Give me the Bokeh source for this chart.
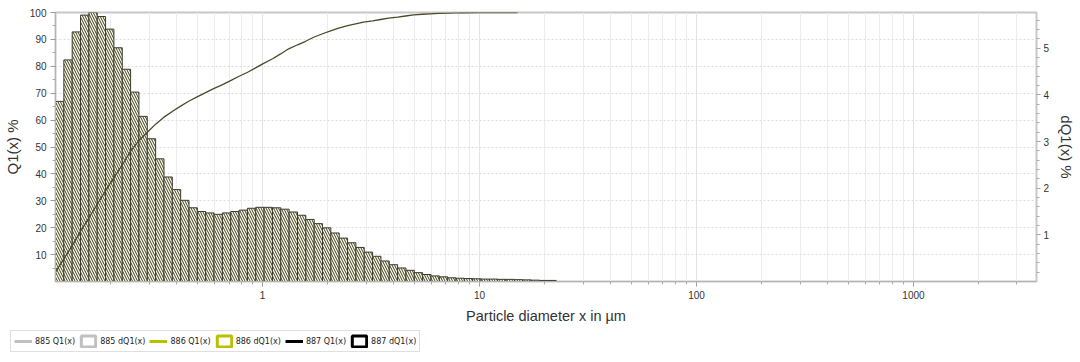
import numpy as np
from bokeh.plotting import figure
from bokeh.models import (Range1d, LinearAxis, FixedTicker, Legend, LegendItem, ColumnDataSource)
from bokeh.embed import file_html
from bokeh.resources import INLINE

# ---------------- data ----------------
x_start = 0.111          # lower edge of the first class (µm)
class_ratio = 1.0926     # geometric class width
# dQ1(x) % per class (right axis)
dq1 = [3.86, 4.75, 5.35, 5.71, 5.77, 5.68, 5.41, 5.01, 4.55, 4.06,
       3.54, 3.06, 2.63, 2.24, 1.97, 1.74, 1.58, 1.50, 1.47, 1.44,
       1.47, 1.50, 1.53, 1.57, 1.59, 1.59, 1.58, 1.55, 1.49, 1.42,
       1.33, 1.24, 1.15, 1.04, 0.93, 0.83, 0.73, 0.63, 0.54, 0.44,
       0.36, 0.29, 0.24, 0.19, 0.15, 0.12, 0.10, 0.08, 0.07, 0.063,
       0.058, 0.052, 0.052, 0.046, 0.046, 0.040, 0.035, 0.029, 0.023, 0.023]
# cumulative Q1(x) % (left axis)
q1_x = [0.1112, 0.1210, 0.1331, 0.1449, 0.1578, 0.1737, 0.1890, 0.2058, 0.2263, 0.2464,
        0.2683, 0.2951, 0.3212, 0.3498, 0.3848, 0.4189, 0.4560, 0.5017, 0.5462, 0.5944,
        0.6541, 0.7120, 0.7750, 0.8529, 0.9284, 1.0107, 1.112, 1.210, 1.318, 1.450,
        1.578, 1.718, 1.890, 2.058, 2.240, 2.465, 2.683, 2.920, 3.213, 3.498,
        3.807, 4.189, 4.560, 4.965, 5.462, 5.945, 6.473, 7.120, 7.751, 8.441,
        10.11, 14.97]
q1_y = [3.6, 8.3, 13.5, 18.7, 23.5, 29.0, 33.8, 38.5, 43.5, 48.5,
        52.3, 55.6, 58.5, 61.0, 63.3, 65.2, 67.0, 68.7, 70.2, 71.7,
        73.2, 74.7, 76.2, 77.8, 79.4, 81.1, 82.8, 84.6, 86.5, 88.0,
        89.3, 90.8, 92.1, 93.2, 94.2, 95.1, 95.8, 96.4, 96.9, 97.4,
        97.9, 98.3, 98.7, 99.1, 99.35, 99.5, 99.65, 99.8, 99.85, 99.9,
        100.0, 100.0]
left_ticks = [10, 20, 30, 40, 50, 60, 70, 80, 90, 100]
right_ticks = [1, 2, 3, 4, 5]
x_ticks = [1, 10, 100, 1000]
x_tick_labels = ["1", "10", "100", "1000"]
legend_labels = ["885 Q1(x)", "885 dQ1(x)", "886 Q1(x)", "886 dQ1(x)", "887 Q1(x)", "887 dQ1(x)"]
legend_colors = ["#c0c0c0", "#c0c0c0", "#b8c000", "#b8c000", "#000000", "#000000"]

edges = x_start * class_ratio ** np.arange(len(dq1) + 1)
bars = ColumnDataSource(dict(left=edges[:-1], right=edges[1:], top=dq1, bottom=[0] * len(dq1)))

TXT = "#333333"
FONT = "Liberation Sans"

p = figure(width=1080, height=326, output_backend="svg", toolbar_location=None,
           x_axis_type="log", x_range=Range1d(0.111, 3690), y_range=Range1d(0, 100),
           min_border_left=55, min_border_right=44, min_border_top=12, min_border_bottom=43,
           outline_line_color="#c8c8c8", outline_line_width=2)
p.extra_y_ranges = {"dq": Range1d(0, 5.766)}

# bars
p.quad(left="left", right="right", top="top", bottom="bottom", source=bars, y_range_name="dq",
       fill_color="#ffffe6", line_color="#3a3a30", line_width=1,
       hatch_pattern="\\", hatch_color="#3a3a2a", hatch_scale=5, hatch_weight=1)
# cumulative curve
p.line(q1_x, q1_y, line_color="#4a4a2a", line_width=1.3)

# grid
p.xgrid.grid_line_color = "#e4e4e4"
p.xgrid.minor_grid_line_color = "#ececec"
p.ygrid.grid_line_color = "#dcdcdc"
p.ygrid.grid_line_dash = "2 2"
p.ygrid.ticker = FixedTicker(ticks=left_ticks)

# x axis
xa = p.xaxis[0]
xa.ticker = FixedTicker(ticks=x_ticks, minor_ticks=[m * 10.0 ** e for e in range(-1, 4) for m in range(1, 10)])
xa.major_label_overrides = {t: s for t, s in zip(x_ticks, x_tick_labels)}
xa.axis_label = "Particle diameter x in µm"
xa.axis_label_text_font = FONT
xa.axis_label_text_font_size = "14.5px"
xa.axis_label_text_font_style = "normal"
xa.axis_label_text_color = TXT
xa.axis_label_standoff = 6
xa.major_label_text_font = FONT
xa.major_label_text_font_size = "10px"
xa.major_label_text_color = TXT
xa.major_label_standoff = 4
xa.axis_line_color = "#b4b4b4"
xa.major_tick_line_color = "#999999"
xa.minor_tick_line_color = "#aaaaaa"
xa.major_tick_out = 5
xa.major_tick_in = 0
xa.minor_tick_out = 3
xa.minor_tick_in = 0

# left axis
ya = p.yaxis[0]
ya.ticker = FixedTicker(ticks=left_ticks, minor_ticks=[v + 5 for v in range(0, 100, 10)])
ya.axis_label = "Q1(x) %"
ya.axis_label_text_font = FONT
ya.axis_label_text_font_size = "15px"
ya.axis_label_text_font_style = "normal"
ya.axis_label_text_color = TXT
ya.axis_label_standoff = 6
ya.major_label_text_font = FONT
ya.major_label_text_font_size = "10px"
ya.major_label_text_color = TXT
ya.major_label_standoff = 4
ya.axis_line_color = "#b4b4b4"
ya.major_tick_line_color = "#999999"
ya.minor_tick_line_color = "#aaaaaa"
ya.major_tick_out = 5
ya.major_tick_in = 0
ya.minor_tick_out = 3
ya.minor_tick_in = 0

# right axis
ra = LinearAxis(y_range_name="dq",
                ticker=FixedTicker(ticks=right_ticks,
                                   minor_ticks=[round(0.2 * i, 2) for i in range(1, 29)]))
ra.axis_label = "dQ1(x) %"
ra.axis_label_text_font = FONT
ra.axis_label_text_font_size = "15px"
ra.axis_label_text_font_style = "normal"
ra.axis_label_text_color = TXT
ra.axis_label_standoff = 6
ra.major_label_text_font = FONT
ra.major_label_text_font_size = "10px"
ra.major_label_text_color = TXT
ra.major_label_standoff = 3
ra.axis_line_color = "#c8c8c8"
ra.major_tick_line_color = "#999999"
ra.minor_tick_line_color = "#aaaaaa"
ra.major_tick_out = 4
ra.major_tick_in = 0
ra.minor_tick_out = 3
ra.minor_tick_in = 0
p.add_layout(ra, "right")

# legend strip (separate small figure; dummy renderers lie outside its ranges)
lf = figure(width=1080, height=36, output_backend="svg", toolbar_location=None,
            min_border=0, outline_line_color=None, x_range=Range1d(0, 1), y_range=Range1d(0, 1))
lf.axis.visible = False
lf.grid.visible = False
items = []
for lab, col in zip(legend_labels, legend_colors):
    if "dQ1" in lab:
        r = lf.quad(left=[5], right=[6], top=[6], bottom=[5], fill_color="white",
                    line_color=col, line_width=3)
    else:
        r = lf.line([5, 6], [5, 5], line_color=col, line_width=3)
    items.append(LegendItem(label=lab, renderers=[r]))
leg = Legend(items=items, orientation="horizontal", location=(10, 10),
             label_text_font="DejaVu Sans", label_text_font_size="8px", label_text_color="#222222",
             glyph_width=18, glyph_height=14, label_standoff=3, spacing=4, padding=3, margin=0,
             border_line_color="#c0c0c0", border_line_width=1, background_fill_color="white",
             label_height=14)
lf.add_layout(leg, "center")

open("out.html", "w").write(file_html([p, lf], INLINE))
